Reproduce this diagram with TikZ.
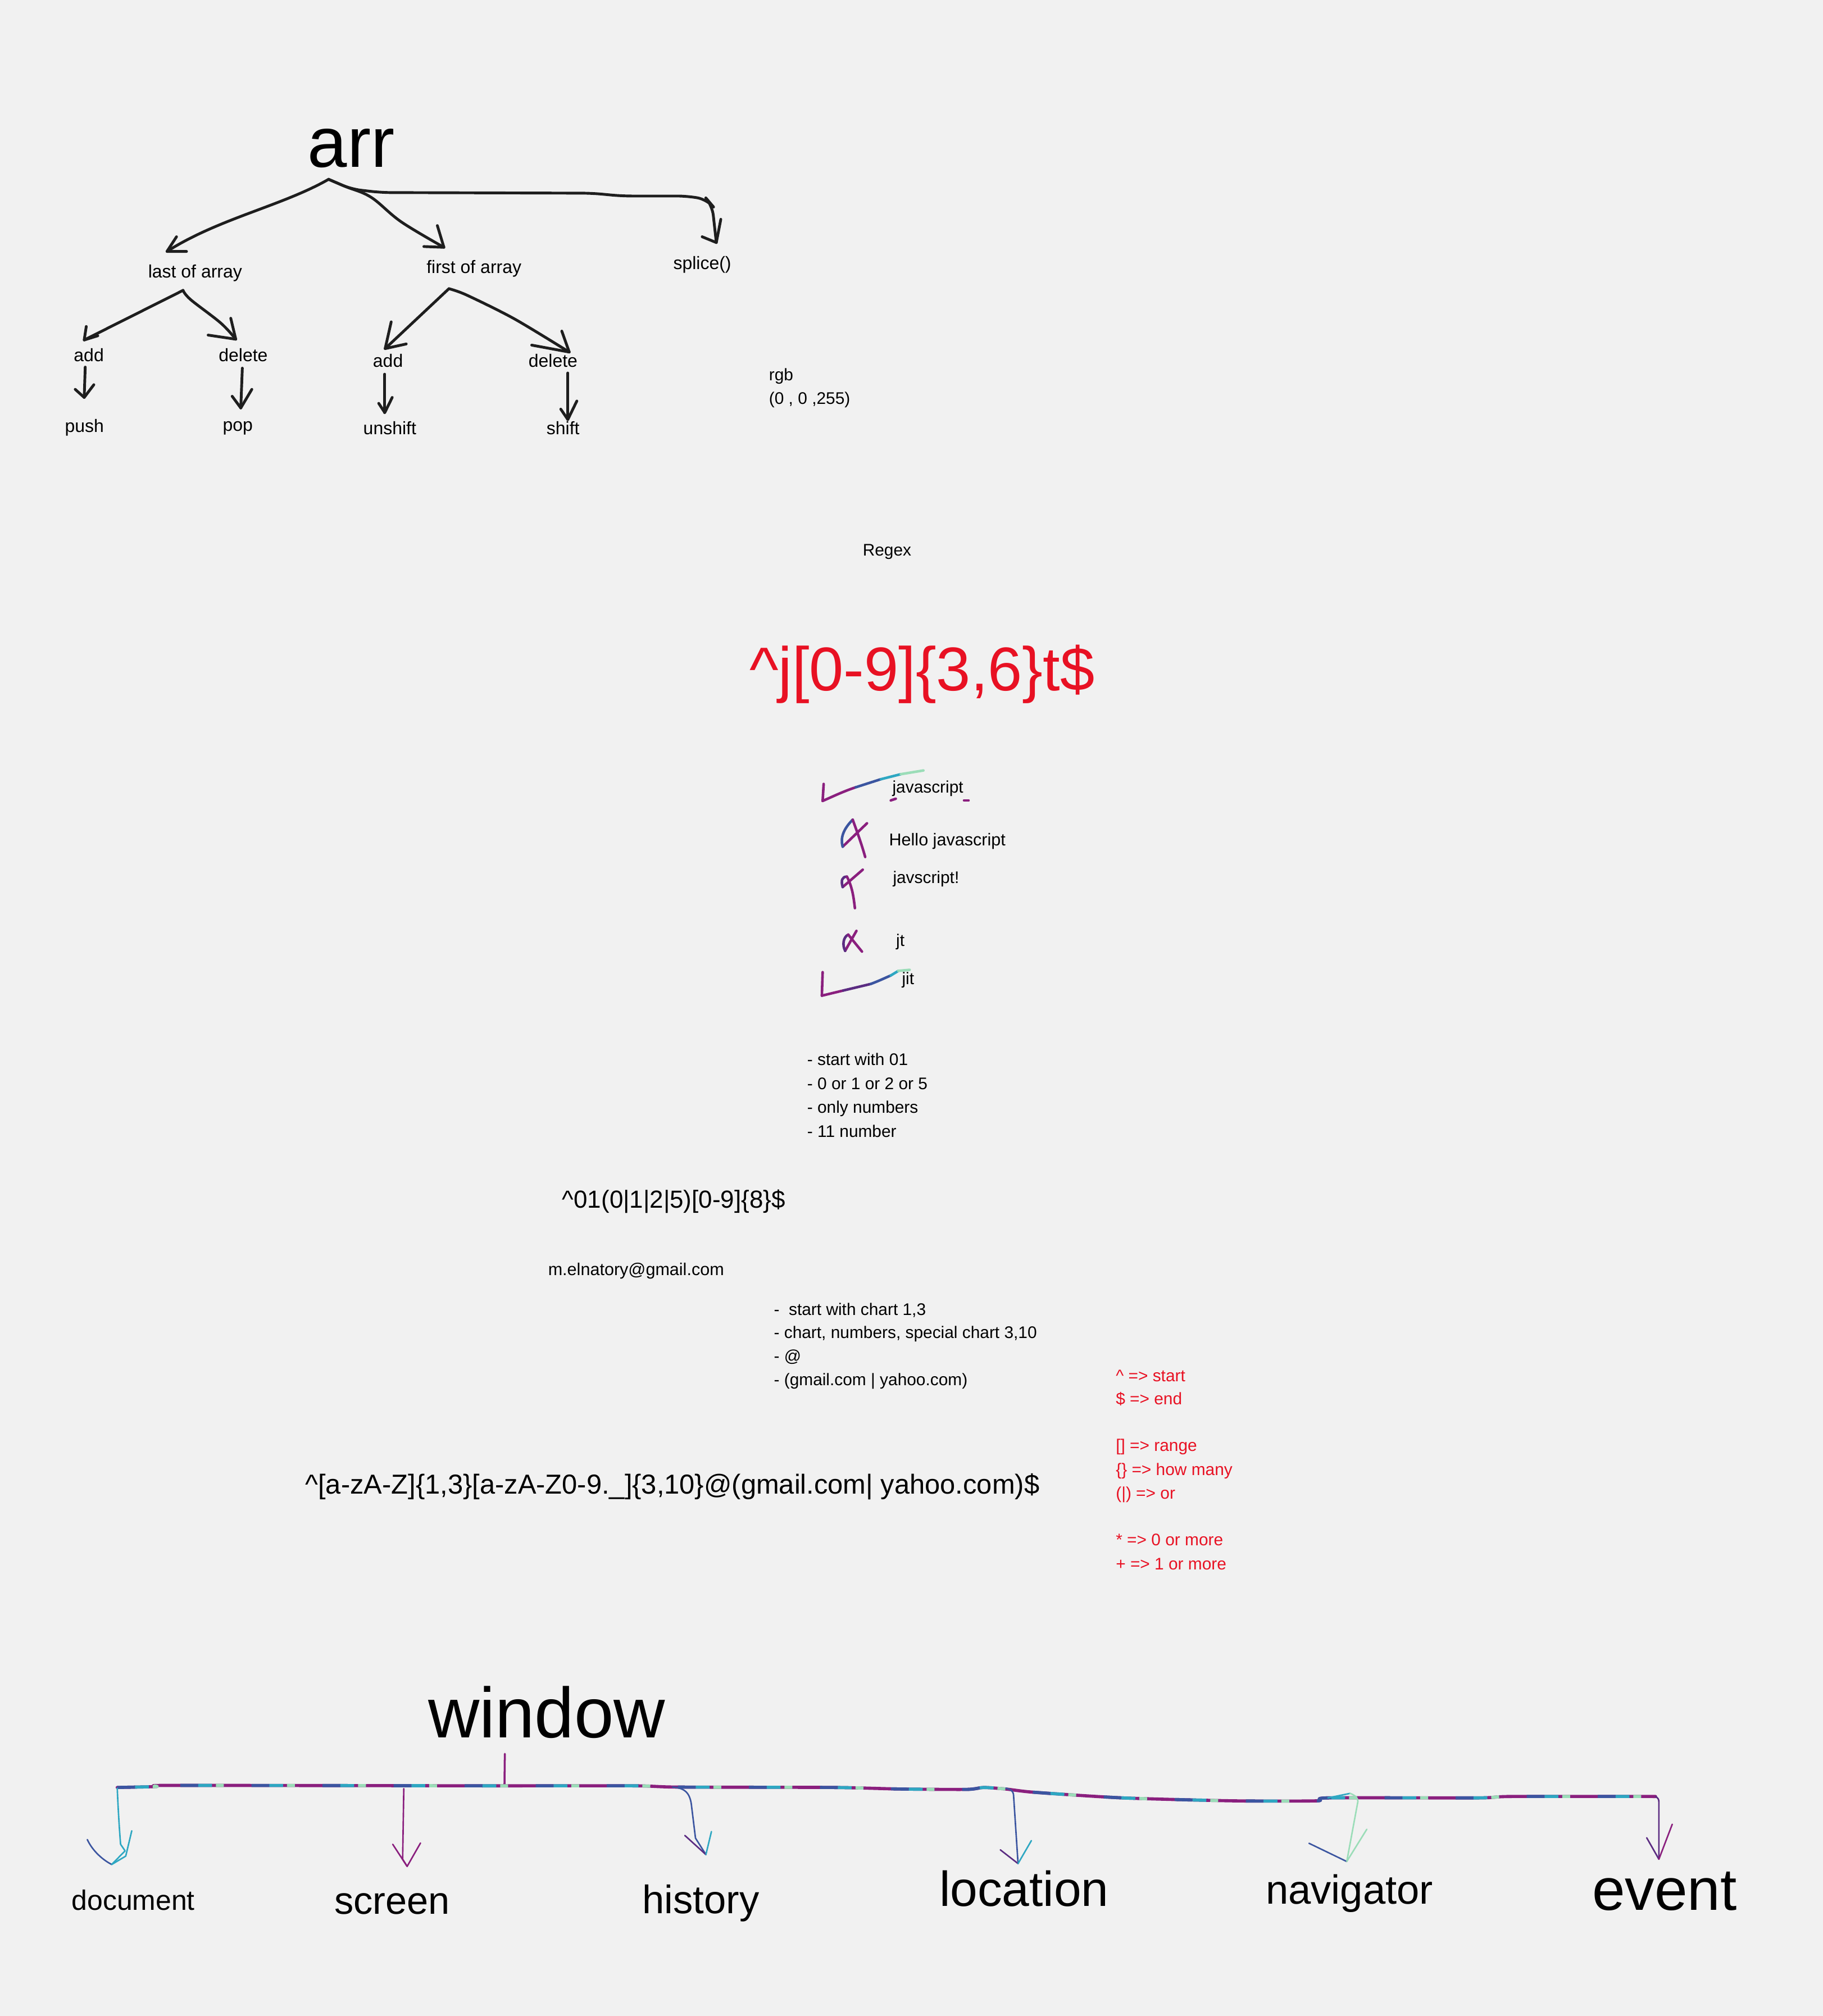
\documentclass[tikz,border=0pt]{standalone}
\usepackage{fontspec}
\setmainfont{Liberation Sans}
\definecolor{bg}{HTML}{F1F1F1}
\definecolor{ink}{HTML}{1E1E1E}
\definecolor{rd}{HTML}{E81123}
\definecolor{pp}{HTML}{8A1F7E}
\definecolor{bl}{HTML}{3B55A0}
\definecolor{tl}{HTML}{2EA7C2}
\definecolor{gr}{HTML}{9BDDB8}
\definecolor{dv}{HTML}{5B2C82}
\tikzset{
  pen/.style={draw=ink, line width=1.4pt, line cap=round, line join=round},
  hand/.style={draw=#1, line width=1.3pt, line cap=round, line join=round},
  thin/.style={draw=#1, line width=0.75pt, line cap=round, line join=round},
  rainbow/.style={draw=pp, line width=1.6pt, line cap=round, line join=round,
    postaction={draw=bl, line cap=butt, line width=1.6pt, dash pattern=on 9pt off 27pt},
    postaction={draw=tl, line cap=butt, line width=1.6pt, dash pattern=on 7pt off 29pt, dash phase=27pt},
    postaction={draw=gr, line cap=butt, line width=1.6pt, dash pattern=on 4pt off 32pt, dash phase=18pt}},
  lbl/.style={inner sep=0pt, anchor=base, text=black, font=\fontsize{9.1}{11}\selectfont},
  sm/.style={inner sep=0pt, anchor=base west, text=black, font=\fontsize{8.5}{10}\selectfont},
  leg/.style={sm, text=rd},
}
\begin{document}
\begin{tikzpicture}[x=0.022884cm, y=-0.022884cm]
\fill[bg] (0,0) rectangle (1418,1568.4);
\useasboundingbox (0,0) rectangle (1418,1568.4);

% ---------------- array tree ----------------
\node[lbl, font=\fontsize{36}{40}\selectfont] (arr) at (273.2,129.9) {arr};
\node[lbl] (lastA) at (151.8,216.3) {last of array};
\node[lbl] (firstA) at (368.7,212.7) {first of array};
\node[lbl] (splice) at (546.3,209.6) {splice()};
\node[lbl] (add1) at (69.1,281.1) {add};
\node[lbl] (del1) at (189.2,281.1) {delete};
\node[lbl] (push) at (65.7,336.3) {push};
\node[lbl] (pop) at (185,335.5) {pop};
\node[lbl] (add2) at (301.8,285.7) {add};
\node[lbl] (del2) at (430.2,285.7) {delete};
\node[lbl] (unshift) at (303.2,338.2) {unshift};
\node[lbl] (shift) at (438,338.2) {shift};

\coordinate (apex) at (255.6,139.5);
\coordinate (tLast) at (129.9,195.6);
\coordinate (tFirst) at (345.3,192.4);
\coordinate (tSplice) at (557.2,188.7);
\draw[pen] (apex) .. controls (220,160) and (170,170) .. (tLast);
\draw[pen] (137.3,184.2) -- (tLast) -- (145.1,195.6);
\draw[pen] plot[smooth, tension=0.6] coordinates {(apex) (269.2,145.3) (288.7,153.5) (312.1,172.6) (tFirst)};
\draw[pen] (340.2,175.5) -- (tFirst) -- (329.7,191.8);
\draw[pen, rounded corners=5] (apex) -- (273.1,147.1) -- (296.5,149.8) -- (460.4,150.3) -- (483.8,152.5) -- (534.5,152.5) -- (550.1,155.2) -- (554.0,159.8) -- (tSplice);
\draw[pen] (560.7,170.6) -- (tSplice) -- (546.2,184.2);

\coordinate (apexL) at (142.4,225.9);
\coordinate (tAdd1) at (65.5,264.5);
\coordinate (tDel1) at (183.4,263.9);
\draw[pen] (apexL) -- (tAdd1);
\draw[pen] (67.1,254.0) -- (tAdd1) -- (76.1,261.2);
\draw[pen] plot[smooth, tension=0.6] coordinates {(apexL) (148.3,233.1) (171.7,251.3) (tDel1)};
\draw[pen] (179.5,247.6) -- (tDel1) -- (161.9,260.7);

\coordinate (apexR) at (349.2,224.6);
\coordinate (tAdd2) at (299.6,271.2);
\coordinate (tDel2) at (442.8,273.9);
\draw[pen] (apexR) -- (tAdd2);
\draw[pen] (304.3,250.4) -- (tAdd2) -- (316.0,267.6);
\draw[pen] plot[smooth, tension=0.5] coordinates {(apexR) (362.9,229.5) (400,248) (tDel2)};
\draw[pen] (437.0,257.6) -- (tDel2) -- (413.6,268.5);

\coordinate (sPush) at (66.3,285.6); \coordinate (ePush) at (65.5,309.2);
\draw[pen] (sPush) -- (ePush);
\draw[pen] (58.5,302.9) -- (ePush) -- (73.0,299.3);
\coordinate (sPop) at (188.5,286.4); \coordinate (ePop) at (187.3,317.4);
\draw[pen] (sPop) -- (ePop);
\draw[pen] (180.6,308.3) -- (ePop) -- (195.9,302.9);
\coordinate (sUn) at (299.3,291.1); \coordinate (eUn) at (299.3,321.0);
\draw[pen] (sUn) -- (eUn);
\draw[pen] (294.6,313.8) -- (eUn) -- (305.1,309.2);
\coordinate (sSh) at (441.7,290.2); \coordinate (eSh) at (441.7,326.4);
\draw[pen] (sSh) -- (eSh);
\draw[pen] (436.2,318.3) -- (eSh) -- (448.7,312.0);

% ---------------- rgb / regex ----------------
\node[sm] (rgb) at (597.9,296.1) {rgb};
\node[sm] (rgbv) at (597.9,314.6) {(0 , 0 ,255)};
\node[lbl, font=\fontsize{8.5}{10}\selectfont] (regex) at (690,432.6) {Regex};
\node[inner sep=0pt, anchor=base west, text=rd, font=\fontsize{31.3}{36}\selectfont] (rx1) at (582.7,537.1) {\textasciicircum j[0-9]\{3,6\}t\$};

% test strings
\node[sm] (s1) at (693.9,616.9) {javascript};
\node[sm, font=\fontsize{8.7}{10}\selectfont] (s2) at (691.3,658.1) {Hello javascript};
\node[sm] (s3) at (694.3,687.2) {javscript!};
\node[sm] (s4) at (696.8,736.3) {jt};
\node[sm] (s5) at (701.3,765.9) {jit};

% check 1
\draw[hand=pp] (640.7,609.9) -- (639.9,623.1);
\draw[hand=pp] (639.9,623.1) .. controls (645,621) and (655,616) .. (665.6,612.5);
\draw[hand=bl] (665.6,612.5) -- (685.2,606.2);
\draw[hand=tl] (685.2,606.2) -- (700.7,602.3);
\draw[hand=gr] (700.7,602.3) -- (718.3,599.4);
\draw[hand=pp] (692.9,622.7) -- (696.8,621.4);
\draw[hand=pp] (749.9,622.7) -- (753.4,622.7);
% cross marks
\draw[hand=pp] (674.4,640.5) -- (655.5,658.7);
\draw[hand=bl] (655.5,658.7) .. controls (653.5,652) and (656,645) .. (663.3,637.7);
\draw[hand=pp] (663.3,637.7) .. controls (667,648) and (670,656) .. (673.0,666.7);
\draw[hand=pp] (671.1,676.6) -- (655.5,690.1);
\draw[hand=dv] (655.5,690.1) .. controls (654,685) and (655,682) .. (658.8,682.0);
\draw[hand=pp] (658.8,682.0) .. controls (663,690) and (664,698) .. (665.0,706.5);
\draw[hand=pp] (666.2,724.2) -- (657.4,739.7);
\draw[hand=dv] (657.4,739.7) .. controls (655,735) and (656,729) .. (659.8,727.1);
\draw[hand=pp] (659.8,727.1) -- (670.5,740.3);
% check 2
\draw[hand=pp] (639.9,756.3) -- (639.3,774.6);
\draw[hand=pp] (639.3,774.6) -- (655.9,770.6);
\draw[hand=dv] (655.9,770.6) -- (677.3,765.5);
\draw[hand=bl] (677.3,765.5) .. controls (684,763) and (688,761) .. (692.9,758.9);
\draw[hand=tl] (692.9,758.9) -- (698.8,755.3);
\draw[hand=gr] (698.8,755.3) -- (707.6,754.5);

% phone
\node[sm] (p1) at (627.6,828.8) {- start with 01};
\node[sm] (p2) at (627.6,847.4) {- 0 or 1 or 2 or 5};
\node[sm] (p3) at (627.6,866.1) {- only numbers};
\node[sm] (p4) at (627.6,884.7) {- 11 number};
\node[inner sep=0pt, anchor=base west, font=\fontsize{12.5}{15}\selectfont] (rx2) at (437.1,939.8) {\textasciicircum 01(0|1|2|5)[0-9]\{8\}\$};

% email
\node[sm, font=\fontsize{8.7}{10}\selectfont] (mail) at (426.1,992.3) {m.elnatory@gmail.com};
\node[sm] (e1) at (601.7,1023.1) {-\ \ start with chart 1,3};
\node[sm] (e2) at (601.7,1041.2) {- chart, numbers, special chart 3,10};
\node[sm] (e3) at (601.7,1059.3) {- @};
\node[sm] (e4) at (601.7,1078.0) {- (gmail.com | yahoo.com)};
\node[inner sep=0pt, anchor=base west, font=\fontsize{13.9}{16}\selectfont] (rx3) at (237.2,1162.4) {\textasciicircum[a-zA-Z]\{1,3\}[a-zA-Z0-9.\_]\{3,10\}@(gmail.com| yahoo.com)\$};

% legend
\node[leg] (l1) at (867.7,1074.7) {\textasciicircum\ => start};
\node[leg] (l2) at (867.7,1092.5) {\$ => end};
\node[leg] (l3) at (867.7,1128.9) {[] => range};
\node[leg] (l4) at (867.7,1147.8) {\{\} => how many};
\node[leg] (l5) at (867.7,1166.0) {(|) => or};
\node[leg] (l6) at (867.7,1202.5) {* => 0 or more};
\node[leg] (l7) at (867.7,1221.1) {+ => 1 or more};

% ---------------- window tree ----------------
\node[lbl, font=\fontsize{36}{40}\selectfont] (window) at (425.2,1351.7) {window};
\node[lbl, font=\fontsize{14.2}{16}\selectfont] (document) at (103.7,1485.8) {document};
\node[lbl, font=\fontsize{19.5}{22}\selectfont] (screen) at (305,1489.2) {screen};
\node[lbl, font=\fontsize{20.1}{23}\selectfont] (history) at (545.2,1488.7) {history};
\node[lbl, font=\fontsize{24.9}{28}\selectfont] (location) at (796.6,1482.8) {location};
\node[lbl, font=\fontsize{20.6}{24}\selectfont] (navigator) at (1049.7,1481.4) {navigator};
\node[lbl, font=\fontsize{30}{34}\selectfont] (event) at (1294.8,1486.1) {event};

\coordinate (wTop) at (392.7,1364.4);
\coordinate (wBar) at (392.4,1389.4);
\draw[thin=pp, line width=1pt] (wTop) -- (wBar);
\draw[rainbow] plot[smooth, tension=0.4] coordinates {(91.2,1390.6) (121.5,1389.9) (125.8,1389.0) (250,1389.1) (380.6,1389.3) (493.0,1389.3) (527.5,1390.3) (648.5,1390.6) (700.3,1391.8) (752.1,1392.1) (765.1,1390.6) (782.4,1391.8) (804.0,1394.3) (873.1,1398.7) (959.5,1401.0) (1024.3,1401.0) (1032.9,1398.7) (1149.6,1398.7) (1175.5,1397.6) (1287.8,1397.6)};

% branches
\coordinate (tDoc) at (86.9,1450.5);
\draw[thin=tl] (91.2,1391.1) .. controls (92,1410) and (93,1425) .. (93.8,1434.8) -- (97.3,1439.9) -- (tDoc);
\draw[thin=bl] (67.9,1431.1) .. controls (72,1440) and (80,1447) .. (tDoc);
\draw[thin=tl] (102.5,1424.3) -- (97.8,1444) -- (tDoc);

\coordinate (tScr) at (316.7,1452.0);
\draw[thin=pp] (314.1,1391.5) -- (313.2,1446.4) -- (tScr);
\draw[thin=pp] (305.5,1434.8) -- (tScr) -- (327.1,1433.8);

\coordinate (tHis) at (549.1,1442.8);
\draw[thin=bl] (523.2,1390.3) .. controls (533,1391) and (537,1395) .. (538,1405.6) -- (541,1430) -- (tHis);
\draw[thin=dv] (532.7,1427.9) -- (tHis);
\draw[thin=tl] (553.4,1424.9) -- (tHis);

\coordinate (tLoc) at (791.9,1449.8);
\draw[thin=bl] (782.4,1391.1) .. controls (786,1392) and (788,1393) .. (788.4,1396.4) -- (tLoc);
\draw[thin=dv] (778.1,1439.1) -- (tLoc);
\draw[thin=tl] (802.3,1431.9) -- (tLoc);

\coordinate (tNav) at (1047.6,1448.2);
\draw[thin=tl] (1032.9,1398.7) -- (1050.2,1395.2);
\draw[thin=gr] (1050.2,1395.2) .. controls (1055,1397) and (1056,1399) .. (1056.3,1401.3) -- (tNav);
\draw[thin=bl] (1018.2,1434.0) -- (tNav);
\draw[thin=gr] (1063.2,1423.1) -- (tNav);

\coordinate (tEv) at (1290.4,1446.4);
\draw[thin=dv] (1287.8,1397.6) .. controls (1290,1399) and (1290.4,1400) .. (1290.4,1402.0) -- (tEv);
\draw[thin=dv] (1280.9,1429.7) -- (tEv);
\draw[thin=pp] (1300.8,1419.2) -- (tEv);
\end{tikzpicture}
\end{document}
